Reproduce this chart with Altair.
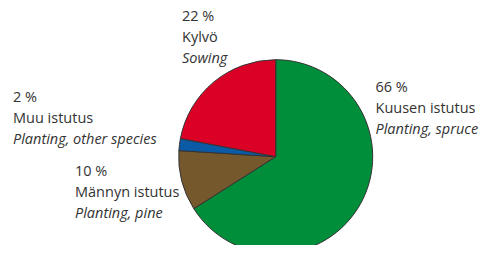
import altair as alt
import pandas as pd

# Data
categories_fi = ["Kuusen istutus", "Männyn istutus", "Muu istutus", "Kylvö"]
categories_en = ["Planting, spruce", "Planting, pine", "Planting, other species", "Sowing"]
shares = [66, 10, 2, 22]
colors = ["#008e3a", "#75582b", "#0a5aa6", "#da0026"]

# Layout (chart pixel coordinates)
W, H = 472, 237
CX, CY, R = 267.7, 148.7, 97
label_pos = {  # left x, centre y of first line
    "Kuusen istutus": (367.5, 80),
    "Männyn istutus": (67, 164),
    "Muu istutus": (5, 89.5),
    "Kylvö": (174, 8.5),
}
LINE = 21.2
TEXT_COLOR = "#333333"
FONT = "Open Sans"
FS = 14.5

pie_df = pd.DataFrame({
    "cat": categories_fi,
    "share": shares,
    "order": list(range(len(shares))),
})

rows = []
for fi, en, s in zip(categories_fi, categories_en, shares):
    x0, y0 = label_pos[fi]
    rows.append({"txt": f"{s} %", "px": x0, "py": y0, "it": False})
    rows.append({"txt": fi, "px": x0, "py": y0 + LINE, "it": False})
    rows.append({"txt": en, "px": x0, "py": y0 + 2 * LINE, "it": True})
lab_df = pd.DataFrame(rows)

pie = alt.Chart(pie_df).mark_arc(
    radius=R, stroke="#333333", strokeWidth=1
).encode(
    theta=alt.Theta("share:Q", stack=True),
    order=alt.Order("order:Q"),
    color=alt.Color("cat:N", scale=alt.Scale(domain=categories_fi, range=colors), legend=None),
    x=alt.value(CX),
    y=alt.value(CY),
)

base_txt = alt.Chart(lab_df).encode(
    x=alt.X("px:Q", scale=None, axis=None),
    y=alt.Y("py:Q", scale=None, axis=None),
    text="txt:N",
)
normal = base_txt.transform_filter("!datum.it").mark_text(
    align="left", baseline="middle", font=FONT, fontSize=FS, color=TEXT_COLOR
)
italic = base_txt.transform_filter("datum.it").mark_text(
    align="left", baseline="middle", font=FONT, fontSize=FS, fontStyle="italic", color=TEXT_COLOR
)

chart = alt.layer(pie, normal, italic).properties(
    width=W, height=H, autosize=alt.AutoSizeParams(type="none"), padding=0
).configure(background="white").configure_view(stroke=None)

chart.save("out.html", embed_options={"renderer": "svg", "actions": False})
